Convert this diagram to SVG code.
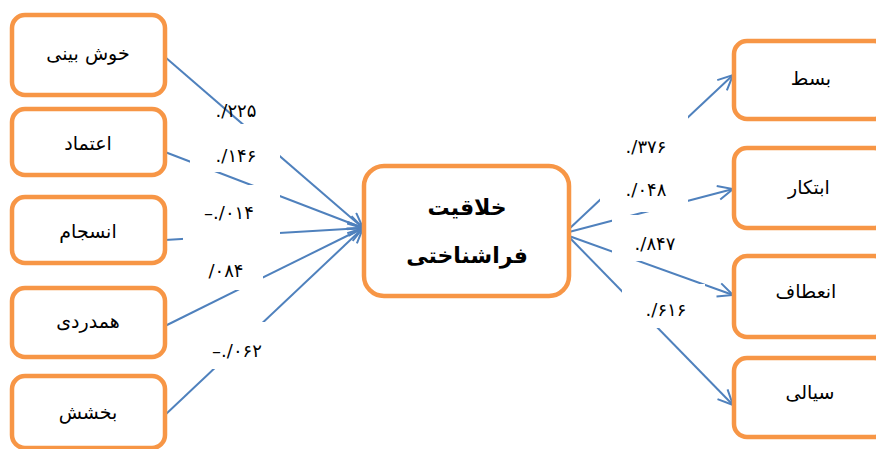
<svg xmlns="http://www.w3.org/2000/svg" width="876" height="449" viewBox="0 0 876 449">
<style>
.box{fill:#fff;stroke:#F79646;stroke-width:4.5}
.ln{fill:none;stroke:#4F81BD;stroke-width:2}
.nt{font-family:"DejaVu Sans","Noto Sans",sans-serif;font-size:19px;fill:#000;text-anchor:middle}
.ct{font-family:"DejaVu Sans","Noto Sans",sans-serif;font-size:22px;font-weight:bold;fill:#000;text-anchor:middle}
.lb{font-family:"DejaVu Sans","Noto Sans",sans-serif;font-size:18px;fill:#000;text-anchor:middle;direction:ltr;unicode-bidi:bidi-override}
.wb{fill:#fff;stroke:none}
</style>
<defs>
<marker id="arr" markerWidth="18" markerHeight="16" refX="16" refY="8" orient="auto" markerUnits="userSpaceOnUse">
<path d="M1,1 L16,8 L1,15" fill="none" stroke="#4F81BD" stroke-width="2"/>
</marker>
</defs>
<g id="connectors">
<line class="ln" x1="165" y1="57" x2="363" y2="228" marker-end="url(#arr)"/>
<line class="ln" x1="165" y1="152" x2="363" y2="228" marker-end="url(#arr)"/>
<line class="ln" x1="165" y1="240" x2="363" y2="228" marker-end="url(#arr)"/>
<line class="ln" x1="165" y1="326" x2="363" y2="228" marker-end="url(#arr)"/>
<line class="ln" x1="165" y1="415" x2="363" y2="228" marker-end="url(#arr)"/>
<line class="ln" x1="569" y1="229" x2="733" y2="75" marker-end="url(#arr)"/>
<line class="ln" x1="569" y1="232" x2="733" y2="189" marker-end="url(#arr)"/>
<line class="ln" x1="569" y1="236" x2="733" y2="295" marker-end="url(#arr)"/>
<line class="ln" x1="569" y1="237" x2="733" y2="405" marker-end="url(#arr)"/>
</g>
<g id="labels">
<text class="lb" x="236" y="117">./۲۲۵</text>
<rect class="wb" x="190" y="124" width="90" height="48"/>
<text class="lb" x="236" y="162">./۱۴۶</text>
<rect class="wb" x="183" y="185" width="97" height="60"/>
<text class="lb" x="229" y="219">–./۰۱۴</text>
<rect class="wb" x="195" y="250" width="68" height="40"/>
<text class="lb" x="226" y="277">/۰۸۴</text>
<rect class="wb" x="205" y="322" width="67" height="47"/>
<text class="lb" x="237" y="357">–./۰۶۲</text>
<rect class="wb" x="600" y="115" width="88" height="50"/>
<text class="lb" x="646" y="153">./۳۷۶</text>
<rect class="wb" x="600" y="165" width="88" height="47"/>
<text class="lb" x="646" y="196">./۰۴۸</text>
<rect class="wb" x="612" y="215" width="85" height="46"/>
<text class="lb" x="655" y="250">./۸۴۷</text>
<rect class="wb" x="622" y="284" width="83" height="44"/>
<text class="lb" x="666" y="316">./۶۱۶</text>
</g>
<g id="n-khoshbini"><rect class="box" x="12" y="15" width="153" height="80" rx="13"/><text class="nt" x="88" y="60">خوش بینی</text></g>
<g id="n-etemad"><rect class="box" x="12" y="109" width="153" height="66" rx="13"/><text class="nt" x="88" y="150">اعتماد</text></g>
<g id="n-ensejam"><rect class="box" x="12" y="197" width="153" height="66" rx="13"/><text class="nt" x="88" y="238">انسجام</text></g>
<g id="n-hamdardi"><rect class="box" x="12" y="288" width="153" height="69" rx="13"/><text class="nt" x="88" y="328">همدردی</text></g>
<g id="n-bakhshesh"><rect class="box" x="12" y="376" width="153" height="72" rx="13"/><text class="nt" x="88" y="419">بخشش</text></g>
<g id="n-center"><rect class="box" x="364" y="166" width="205" height="130" rx="20"/><text class="ct" x="467" y="215">خلاقیت</text><text class="ct" x="467" y="263">فراشناختی</text></g>
<g id="n-bast"><rect class="box" x="734" y="41" width="153" height="78" rx="13"/><text class="nt" x="811" y="85">بسط</text></g>
<g id="n-ebtekar"><rect class="box" x="734" y="148" width="153" height="80" rx="13"/><text class="nt" x="809" y="194">ابتکار</text></g>
<g id="n-enetaf"><rect class="box" x="734" y="256" width="153" height="81" rx="13"/><text class="nt" x="806" y="298">انعطاف</text></g>
<g id="n-sayali"><rect class="box" x="734" y="358" width="153" height="79" rx="13"/><text class="nt" x="810" y="399">سیالی</text></g>
</svg>
